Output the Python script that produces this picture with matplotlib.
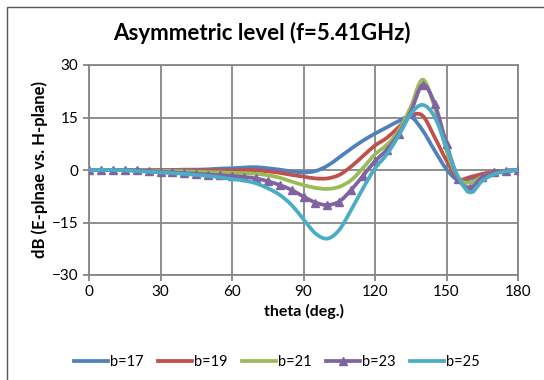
import numpy as np
import matplotlib
matplotlib.use("Agg")
import matplotlib.pyplot as plt
from matplotlib.patches import Rectangle, PathPatch
from matplotlib.path import Path
from matplotlib.lines import Line2D

plt.rcParams['font.family'] = ['Lato', 'DejaVu Sans']

theta = list(range(0, 181, 5))

b17 = [0, 0, 0, 0, 0, 0, 0, 0, 0.1, 0.1, 0.2, 0.4, 0.5, 0.7, 0.8, 0.5, 0.1, -0.4, -0.7,
       -0.3, 1.2, 3.6, 6.1, 8.4, 10.4, 12.2, 14.0, 15.2, 11.3, 5.6, 0.2, -3.0, -2.5, -1.6,
       -0.8, -0.3, 0]
b19 = [0, 0, 0, 0, 0, 0, 0, -0.1, -0.1, -0.1, -0.1, -0.1, -0.1, 0, -0.1, -0.4, -0.8, -1.4,
       -1.9, -2.4, -2.4, -1.4, 1.0, 4.0, 7.0, 9.2, 12.3, 15.5, 15.5, 9.4, 2.7, -2.5, -2.0,
       -1.1, -0.5, -0.2, 0]
b21 = [0, 0, 0, 0, 0, -0.1, -0.2, -0.3, -0.4, -0.5, -0.6, -0.7, -0.8, -0.9, -1.1, -1.5,
       -2.2, -3.3, -4.3, -5.1, -5.4, -4.8, -2.9, 0.6, 4.5, 7.2, 11.3, 18.0, 25.8, 18.0, 5.6,
       -2.4, -3.6, -1.9, -0.7, -0.2, 0]
b23 = [0, 0, 0, 0, -0.1, -0.3, -0.5, -0.7, -0.9, -1.1, -1.3, -1.5, -1.7, -2.0, -2.4, -3.2,
       -4.3, -5.7, -7.6, -9.3, -10.0, -9.0, -5.7, -1.6, 2.5, 5.8, 10.4, 16.6, 24.3, 19.0,
       7.5, -2.6, -5.0, -2.1, -0.7, -0.2, 0]
b25 = [0, 0, 0, -0.1, -0.3, -0.5, -0.7, -0.9, -1.1, -1.4, -1.7, -2.1, -2.6, -3.0, -3.8,
       -5.2, -7.1, -10.0, -14.1, -18.1, -19.6, -17.1, -11.4, -5.2, 0.5, 4.5, 9.9, 16.0,
       18.6, 15.2, 6.5, -2.1, -6.4, -3.1, -1.2, -0.4, 0]

series = [("b=17", b17, '#4F81BD', None),
          ("b=19", b19, '#C0504D', None),
          ("b=21", b21, '#9BBB59', None),
          ("b=23", b23, '#8064A2', '^'),
          ("b=25", b25, '#4BACC6', None)]


def smooth_path(x, y):
    # excel style smoothed line: catmull-rom through the points as bezier segments
    p = np.column_stack([x, y]).astype(float)
    n = len(p)
    verts = [p[0]]
    codes = [Path.MOVETO]
    for i in range(n - 1):
        p0 = p[i - 1] if i > 0 else p[i]
        p3 = p[i + 2] if i + 2 < n else p[i + 1]
        c1 = p[i] + (p[i + 1] - p0) / 6.0
        c2 = p[i + 1] - (p3 - p[i]) / 6.0
        verts += [c1, c2, p[i + 1]]
        codes += [Path.CURVE4] * 3
    return Path(verts, codes)


fig = plt.figure(figsize=(5.44, 3.8), dpi=100)
ax = fig.add_axes([89/544, 1-275/380, 429/544, 210/380])

handles = []
for name, vals, col, mk in series:
    ax.add_patch(PathPatch(smooth_path(theta, vals), fill=False, edgecolor=col, lw=2.7,
                           capstyle='round', joinstyle='round', zorder=3))
    if mk:
        ax.plot(theta, vals, linestyle='none', marker=mk, color=col, markersize=5.5, zorder=3)
    handles.append(Line2D([], [], color=col, lw=2.7, marker=mk, markersize=5.5, label=name))

ax.set_xlim(0, 180)
ax.set_ylim(-30, 30)
ax.set_xticks(range(0, 181, 30))
ax.set_yticks(range(-30, 31, 15))
ax.grid(True, color='#868686', lw=1.3)
ax.set_axisbelow(True)
for s in ax.spines.values():
    s.set_color('#868686')
    s.set_linewidth(1.3)
ax.tick_params(colors='#868686', labelcolor='black', labelsize=11, length=4, width=1.3)

fig.text(262/544, 1-33/380, "Asymmetric level (f=5.41GHz)", fontsize=16, fontweight='bold',
         ha='center', va='center')
ax.set_xlabel("theta (deg.)", fontsize=11.5, fontweight='bold', labelpad=3)
ax.set_ylabel("dB (E-plnae vs. H-plane)", fontsize=12, fontweight='bold', labelpad=3)

fig.legend(handles=handles, loc='center', bbox_to_anchor=(0.5 + 5/544, 1-362/380), ncol=5,
           frameon=False, fontsize=10.5, handlelength=2.3, handletextpad=0.15,
           columnspacing=1.0)

fig.patches.append(Rectangle((7/544, -0.1), 1.2, 1.1 - 7/380, transform=fig.transFigure,
                             fill=False, edgecolor='#555555', lw=1.0))

fig.savefig("out.png", dpi=100)
